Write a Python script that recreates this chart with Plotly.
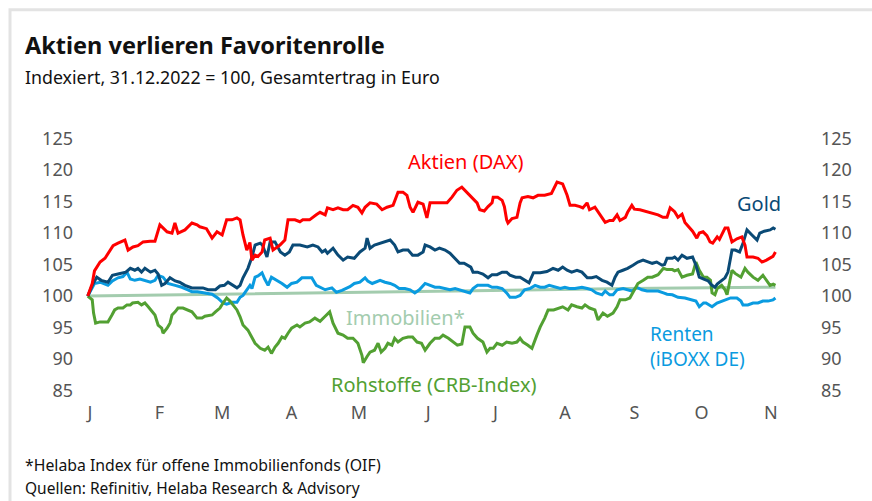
import pandas as pd
import plotly.graph_objects as go

# ---- data: (day offset from 2023-01-01, index value) ----
aktien_pts = [(-1,100),(1,102),(2,104),(4.5,105.4),(6.7,106),(8.9,107.3),(10.3,108),(12.5,108.4),(15.6,108.9),(17,107.3),
 (19.2,107.8),(21.4,108),(23.7,108.6),(26.8,108.7),(29,108.7),(31.2,111.3),(34.4,110.2),(36.6,110),(37.9,111.6),(39.3,110),
 (42.4,110.5),(45.5,111.6),(47.8,111.3),(49,111),(52,110.7),(54.5,109.2),(56.7,110.2),(59,109.7),(61,112.1),(63.4,112.1),
 (65.6,112.4),(67,112.1),(68.3,109.7),(70,107.3),(71.4,108.5),(72.3,105.7),(73.7,106.5),(75,106.3),(76.8,107),(78,108.9),
 (80.4,109.2),(81.7,107.3),(84.8,108.1),(87,108.9),(88.4,112.1),(91.5,112.1),(93.7,111.8),(95,112.1),(98,112.1),(101,112.9),
 (102.7,113.3),(105,112.9),(106,114),(108.5,113.7),(110.7,114),(113,113.7),(115,113.7),(117.4,114.4),(119.6,114.1),(121.4,113.2),
 (122.8,114.1),(125,114.8),(128,114.6),(130.4,113.7),(132.6,114.1),(135.3,114.4),(137.5,116.5),(139.7,116.5),(141.5,116),(142.9,114.1),
 (144.2,113.3),(146.4,114.9),(148.7,114.6),(150.4,112.4),(151.8,114.8),(155.4,114.8),(159.4,114.8),(161.6,115.7),(163.8,116.8),(166,117.3),
 (168,116.6),(170.5,115.6),(172.8,114.8),(174,113.7),(176,113.5),(177.7,114.2),(179.5,114.8),(180,115.7),(182,115.7),(184,115.2),
 (185,114.2),(186,112.1),(186.6,111.6),(188.4,112.3),(190.6,112.5),(192,114.8),(192.9,115.6),(195.5,115.8),(197.8,115.6),(200,116),
 (203,116),(206,116.3),(208.5,118.1),(211,117.8),(213,116),(214.3,114.4),(216.5,114.4),(218.7,114.2),(220,114),(221.9,114.8),
 (223,113.7),(225.4,114.1),(227.7,112.9),(230,111.7),(232,112),(233.5,112),(235.3,112.9),(236.6,112),(239,112.5),(240,113.3),
 (241.9,114.4),(243,113.8),(245.5,113.7),(247.8,113.5),(250.9,113.2),(253.6,112.9),(255.8,112.5),(257.6,112.5),(259,114),(261,113.4),
 (262.5,112.5),(264.3,113),(265.6,111.7),(267.9,110.8),(269,110.3),(270.9,109.2),(272,110),(273.7,110.2),(275.4,109.6),(276.8,108.6),
 (278,108.4),(280,109.4),(281,109),(283.5,110.8),(284.8,110.8),(286.6,108.6),(288.8,109.1),(291,109.4),(292.4,108.1),(293.3,106.2),
 (296,106.2),(298.2,106),(300,105.4),(302,105.7),(304.9,106.3),(306,107)]

gold_pts = [(-1,100),(1,101.7),(3,103),(5,102.5),(8,102.2),(10,103.3),(12.5,103.5),(16,103.8),(18,104.4),(20,104.1),
 (21.4,104.4),(23,103.8),(24.5,104.4),(27,103.8),(29,104.1),(30.4,103.5),(32,101.7),(33.5,102),(35.7,102.9),(38,102.4),
 (40,102.2),(42.4,101.7),(45.5,101.3),(48,101.3),(50.4,101.3),(52.7,101),(56,101),(58,101.6),(60,101.7),(61.6,102.2),
 (64,101.7),(65.6,101.3),(67,101.7),(68.3,102.9),(70.5,104.4),(72.3,106.2),(73.7,108.1),(76,108.4),(77,108.1),(79,106.2),
 (80.4,108.6),(82.6,108.6),(85,107),(87,106.5),(89,107),(90.6,108.1),(93.7,108.1),(97,107.8),(99.5,108.1),(101.8,107.8),
 (103.6,107),(105,107.3),(106,106.8),(108.5,107.6),(110.7,106.5),(113,105.7),(115,106.2),(118,106),(120.5,107),(122.8,107.6),
 (123.7,109.2),(125,107.6),(127,108.1),(129.5,108.4),(131.7,108.6),(134,108.9),(136,108.1),(137.5,107),(139.7,107.3),(142,107.3),
 (144,106.5),(146.4,106.5),(148.7,107),(149.6,108.1),(151.8,107.8),(154,107.3),(156,107.6),(158.5,107.3),(160.7,106.8),(163,106),
 (165,105.2),(167,105.2),(170,104.6),(171,103.8),(173,103.8),(175.4,103.5),(177.7,102.9),(179.5,103.4),(181.7,103.4),(184,103.8),
 (186,103.8),(187.5,103.3),(190,103),(192,103),(194,102.5),(196,102.1),(198,103.7),(201,103.7),(204,103.9),(206.7,104.4),
 (209,104.1),(211,104.6),(213,104.1),(215,103.8),(217.4,104.1),(219.6,103.8),(222,102.9),(224,102.9),(226,103.1),(228.6,102.5),
 (230.8,102.2),(233,101.7),(234.4,103),(235.7,103.8),(237.9,104.1),(240,104.4),(242.4,104.9),(244.6,105.4),(246.9,105.7),(249,105.4),
 (251,105.2),(253,105.4),(255.4,104.9),(256.5,105),(257.6,106),(260,106),(261,106.2),(262.5,105.7),(264.3,106.5),(266.5,106),
 (269,106.2),(270.5,104.9),(272,103),(274,102.7),(276,102.4),(277.7,101.7),(279,101.4),(280,101.9),(282,102.4),(283.5,102.9),
 (284.8,103.8),(286.6,107.3),(288,107.3),(290,107),(291.5,108.4),(293.3,110.5),(295.5,109.7),(297.8,108.9),(299,110),(301,110.3),
 (303.6,110.5),(305,110.8),(306,110.6)]

renten_pts = [(-1,100),(1,101.3),(2,102),(4.5,102.2),(6.7,101.9),(8,101.7),(10,102.4),(12.5,102.9),(14.7,103.1),(16.5,103.8),
 (18,102.7),(20,102.5),(22.3,102.7),(24.5,102.5),(27,102.2),(29,102.5),(30.4,103.3),(32.6,103),(34.8,102),(38,101.7),
 (41,101.4),(43.7,101),(45.5,100.7),(48,100.7),(51,100.5),(54.5,100.3),(57,99.7),(59.4,98.9),(61,98.7),(63.4,99),
 (65.6,99),(67,99.8),(68.3,100.1),(70,101),(71.4,101.7),(72.3,101.2),(73.7,103),(75,103.2),(76.8,103.7),(78,102.7),
 (79.5,101.7),(81,103),(83.5,102.5),(85.7,102),(88,101.4),(90,102),(92.4,102.2),(94.6,102.9),(97,102.9),(99,102.9),
 (101,101.7),(102.7,101.4),(105,101),(108,101.3),(110,100.6),(112.5,100.9),(114.7,101.3),(116,101.5),(118,102),(120.5,102.2),
 (122.8,102.9),(124,102.4),(126,102),(129.5,102.5),(131.7,102.2),(134,102),(136,101.7),(138,101.2),(140.6,101.2),(142.9,101),
 (145,100.5),(147,101),(149.6,102),(151.8,101.7),(154,101.4),(156,101.4),(158.5,101.2),(160.7,101),(163,101.2),(165,101),
 (167.4,100.8),(169.6,100.5),(171,101.2),(173,101.7),(175.4,101.7),(177.7,101.7),(179.5,101.4),(181.7,101.4),(184,101.2),(186,100.5),
 (187.5,99.8),(190,99.8),(192,100.1),(194,101),(196.4,101.2),(198.7,101.7),(201,101.4),(203,101.4),(205,101.7),(207.6,101.4),
 (210,101.2),(212,101.4),(214,101.2),(216.5,101.2),(219.6,101.4),(222,101.2),(224,101),(226,100.5),(228.6,100.2),(230,100.8),
 (232,100.2),(233.5,100.2),(235.3,101),(238,101.2),(240,101),(242,100.8),(244,101.4),(246.4,101),(248.7,100.8),(251,100.8),
 (253.6,100.8),(256,100.5),(257.6,100.3),(260,100.2),(262.5,99.8),(265.6,99.7),(268,99.4),(270.5,99.2),(272,98.3),(273.9,98.9),
 (275,98.9),(277.7,98.3),(279.9,98.9),(282,99.2),(284,99.4),(286,99.7),(288.8,99.7),(290.6,99.2),(291.5,98.6),(293.7,98.6),
 (296,98.9),(298.2,98.9),(300.4,99.2),(302.7,99.2),(304.9,99.4),(306,99.7)]

rohstoffe_pts = [(-1,100),(1,99.4),(1.6,97.3),(2.5,95.7),(4.5,95.9),(6.7,95.9),(8,95.9),(9.8,97),(11,97.8),(12.5,98.1),
 (14.7,98.1),(16.5,98.6),(18,98.6),(19,98.9),(21.4,99),(23,98.6),(24.5,98.9),(26,98.3),(27.7,97.5),(29,97),
 (30.4,95.4),(32,94.9),(32.6,94.1),(34.4,94.9),(35.7,95.7),(36.6,97),(38,97.5),(39.3,98.1),(41.5,98.1),(43.7,97.8),
 (45.5,97.5),(47.8,96.5),(50,96.5),(51.3,96.8),(54.5,97),(56,97.5),(58,98.1),(59.4,98.9),(61,99.7),(62.5,99.2),
 (64,98.6),(65.6,97.8),(67,96.7),(68.3,95.4),(70.5,94.6),(72.3,93.5),(73.7,92.5),(76,91.7),(78,91.4),(79.5,91.9),
 (81,90.9),(82.6,91.9),(84,92.5),(85.7,93.5),(87,93.3),(88.4,94.1),(90,94.9),(92.4,95.4),(93.7,95.1),(96,95.7),
 (98,95.9),(100.4,96.5),(102.7,96),(105,96.8),(107,97.5),(108.5,95.7),(110.7,94.1),(113,93.8),(115,93.3),(117.4,93.3),
 (119.6,92.5),(121.4,90.6),(122,89.4),(123.7,90.4),(125,91.1),(127,91.4),(128.6,92.5),(130,91.1),(131.7,91.7),(133,92.5),
 (134.8,92.2),(136,93.3),(137.5,92.7),(139.7,93.3),(142,93.5),(144,93.5),(146,92.7),(148,92.5),(149.6,91.4),(151.8,92.5),
 (154,93.3),(156,93.3),(157.6,93.8),(160,93.3),(162,92.7),(164,92.2),(166,92.4),(167.4,95.1),(169.6,95.1),(171,94.1),
 (173,93.3),(175.4,92.7),(177.2,91.1),(178.6,91.7),(180,91.7),(181.7,92.5),(184,92.2),(186,92.7),(188.4,92.5),(190.6,92.7),
 (192,93.3),(193.3,92.7),(195.5,92.2),(197.3,91.7),(199.5,93.8),(201,95.1),(203,96.5),(204.5,97.8),(207,97.8),(209,98.1),
 (211,98.3),(213.4,97.8),(215,98.6),(217.4,98.3),(219.6,98.1),(221,98.6),(223,98.1),(225.4,97.8),(226.8,96.2),(229,97.3),
 (231,96.8),(233.5,97.3),(235.3,98.3),(236.6,99.4),(239,99.4),(241,99.7),(243,101),(244.6,102),(247,102.5),(249,103),
 (251,103),(253.6,103.4),(256,104.4),(257.6,104.2),(260,104.2),(261,104),(262.5,104.2),(264.3,103),(266.5,103.3),(269,103.5),
 (270.5,105.4),(272,104.1),(273.9,103),(275.4,103),(277,102.5),(277.7,100.5),(279,100.2),(280,101.2),(282,101.7),(283.5,101),
 (284.4,100.2),(285.7,102.5),(286.6,104.1),(288,103.6),(290.6,103),(292.4,104.4),(293.7,103.8),(296,103),(298.2,102.5),(300.4,103.3),
 (302,102.5),(303.6,101.7),(305,101.9),(306,101.7)]

immobilien_pts = [(-1,100.0),(60,100.3),(120,100.6),(180,100.9),(240,101.2),(306,101.4)]

y_ticks = [85, 90, 95, 100, 105, 110, 115, 120, 125]
month_starts = ["2023-01-01","2023-02-01","2023-03-01","2023-04-01","2023-05-01","2023-06-01",
                "2023-07-01","2023-08-01","2023-09-01","2023-10-01","2023-11-01"]
month_labels = ["J","F","M","A","M","J","J","A","S","O","N"]

BASE = pd.Timestamp("2023-01-01")
def to_xy(pts):
    d = [p[0] for p in pts]
    v = [p[1] for p in pts]
    return BASE + pd.to_timedelta(d, unit="D"), v

# ---- geometry (page pixels; body margin removed below) ----
W, H = 872, 501
PL, PR, PT, PB = 78, 818, 126.4, 400.5
def px(x): return (x - PL) / (PR - PL)
def py(y): return (PB - y) / (PB - PT)

FONT = "Noto Sans"
C_RED = "#ff0000"
C_GOLD = "#0a4a76"
C_RENT = "#0a9be0"
C_ROH = "#52a032"
C_IMM = "#a3ccae"

fig = go.Figure()
series = [("Immobilien*", immobilien_pts, C_IMM),
          ("Renten", renten_pts, C_RENT),
          ("Rohstoffe", rohstoffe_pts, C_ROH),
          ("Gold", gold_pts, C_GOLD),
          ("Aktien", aktien_pts, C_RED)]
for name, pts, col in series:
    x, y = to_xy(pts)
    fig.add_trace(go.Scatter(x=x, y=y, mode="lines", name=name,
                             line=dict(color=col, width=3), hoverinfo="skip"))
# dummy trace so the right-hand axis is drawn
x0, y0 = to_xy(immobilien_pts)
fig.add_trace(go.Scatter(x=x0, y=y0, mode="lines", yaxis="y2",
                         line=dict(width=0), opacity=0, hoverinfo="skip", showlegend=False))

xr = [BASE + pd.to_timedelta((PL - 90) / 2.24, unit="D"), BASE + pd.to_timedelta((PR - 90) / 2.24, unit="D")]
tickfont = dict(family=FONT, size=18, color="#555555")

fig.update_layout(
    width=W, height=H, showlegend=False,
    paper_bgcolor="white", plot_bgcolor="white",
    margin=dict(l=PL, r=W - PR, t=PT, b=H - PB),
    xaxis=dict(type="date", range=xr, tickvals=month_starts, ticktext=month_labels,
               showgrid=False, zeroline=False, showline=False, ticks="", tickfont=tickfont,
               ticklabelstandoff=0),
    yaxis=dict(range=[83.5, 127], tickvals=y_ticks, showgrid=False, zeroline=False,
               showline=False, ticks="", tickfont=tickfont, ticklabelstandoff=4),
    yaxis2=dict(range=[83.5, 127], tickvals=y_ticks, overlaying="y", side="right",
                showgrid=False, zeroline=False, showline=False, ticks="", tickfont=tickfont,
                ticklabelstandoff=2),
)

def ann(text, x, y, color, size, xanchor="center", bold=False):
    fig.add_annotation(text=(f"<b>{text}</b>" if bold else text), x=px(x), y=py(y),
                       xref="paper", yref="paper", xanchor=xanchor, yanchor="middle",
                       showarrow=False, font=dict(family=FONT, size=size, color=color), align="left")

ann("Aktien verlieren Favoritenrolle", 23, 45, "#111111", 23.5, "left", bold=True)
ann("Indexiert, 31.12.2022 = 100, Gesamtertrag in Euro", 23, 77, "#111111", 17.8, "left")
ann("Aktien (DAX)", 465, 162, C_RED, 20)
ann("Gold", 759, 204, C_GOLD, 20)
ann("Immobilien*", 405, 318, C_IMM, 20)
ann("Renten<br>(iBOXX DE)", 648, 347, C_RENT, 19, "left")
ann("Rohstoffe (CRB-Index)", 433, 385, C_ROH, 20)
ann("*Helaba Index für offene Immobilienfonds (OIF)", 23, 466, "#111111", 15.8, "left")
ann("Quellen: Refinitiv, Helaba Research &amp; Advisory", 23, 489, "#111111", 15.5, "left")

# outer light frame (open to the right and bottom, as in the reference crop)
fig.add_shape(type="rect", xref="paper", yref="paper",
              x0=px(10), x1=px(900), y0=py(530), y1=py(10),
              line=dict(color="#e3e3e3", width=3), fillcolor="rgba(0,0,0,0)", layer="below")

fig.write_html("out.html", config={"displayModeBar": False},
               post_script="document.body.style.margin='0';document.body.style.overflow='hidden';")
